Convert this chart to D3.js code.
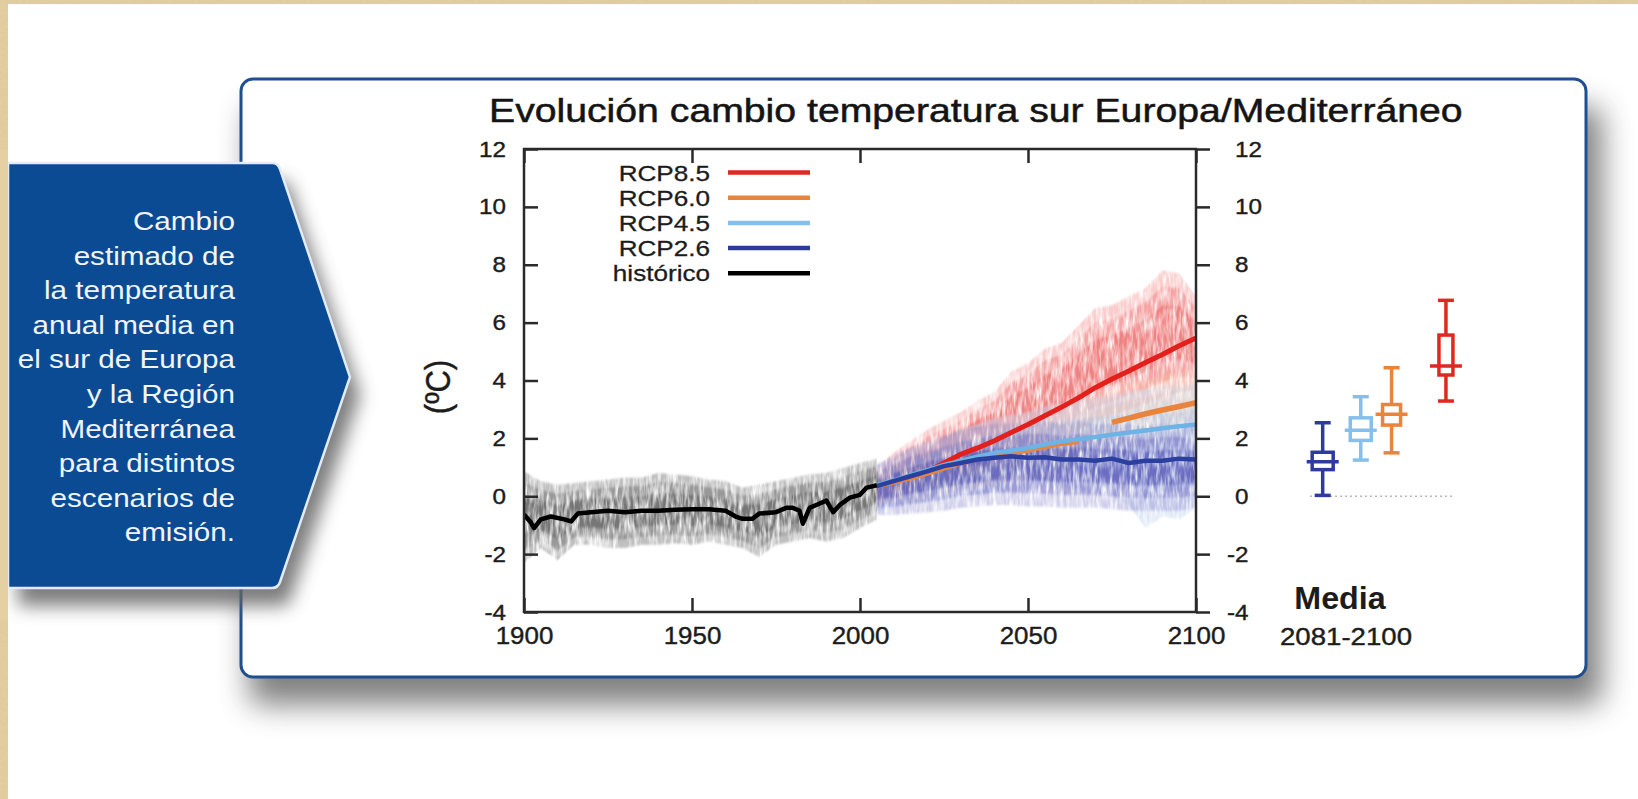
<!DOCTYPE html>
<html>
<head>
<meta charset="utf-8">
<script src="https://cdn.jsdelivr.net/npm/d3@7"></script>
<style>
  body { margin: 0; background: #fff; }
  svg { display: block; }
  text { font-family: "Liberation Sans", Arial, Helvetica, sans-serif; }
</style>
</head>
<body>
<svg id="chart" width="1638" height="799"></svg>
<script>
// ---------------- data ----------------
const title = "Evolución cambio temperatura sur Europa/Mediterráneo";
const sideText = ["Cambio", "estimado de", "la temperatura", "anual media en",
  "el sur de Europa", "y la Región", "Mediterránea", "para distintos",
  "escenarios de", "emisión."];

const yTicks = [-4, -2, 0, 2, 4, 6, 8, 10, 12];
const xTicks = [1900, 1950, 2000, 2050, 2100];

const legendNames = ["RCP8.5", "RCP6.0", "RCP4.5", "RCP2.6", "histórico"];

// historical multi-model mean (ºC anomaly)
const histYears = [1900, 1902, 1903, 1905, 1908, 1912, 1914, 1916, 1920, 1925, 1930, 1935, 1940,
  1945, 1950, 1955, 1960, 1963, 1965, 1968, 1970, 1975, 1978, 1980, 1982, 1983, 1985, 1988,
  1990, 1992, 1994, 1997, 2000, 2002, 2005];
const histMean = [-0.63, -0.9, -1.1, -0.8, -0.7, -0.8, -0.87, -0.6, -0.55, -0.5, -0.55, -0.5, -0.5,
  -0.47, -0.45, -0.45, -0.5, -0.7, -0.78, -0.78, -0.6, -0.55, -0.4, -0.4, -0.5, -0.95, -0.4, -0.25,
  -0.15, -0.55, -0.3, -0.05, 0.05, 0.3, 0.38];

// historical ensemble spread, 5-year steps
const histEnvYears = [1900, 1905, 1910, 1915, 1920, 1925, 1930, 1935, 1940, 1945, 1950, 1955,
  1960, 1965, 1970, 1975, 1980, 1985, 1990, 1995, 2000, 2005];
const histUpper = [0.86, 0.52, 0.4, 0.46, 0.52, 0.58, 0.64, 0.64, 0.8, 0.75, 0.69, 0.58,
  0.52, 0.29, 0.4, 0.52, 0.64, 0.75, 0.8, 0.98, 1.15, 1.3];
const histLower = [-2.3, -1.8, -2.2, -1.68, -1.68, -1.79, -1.79, -1.68, -1.68, -1.62, -1.68, -1.56,
  -1.68, -1.79, -2.1, -1.68, -1.56, -1.44, -1.56, -1.44, -1.1, -0.8];

// scenario projections, 5-year steps
const futYears = [2005, 2010, 2015, 2020, 2025, 2030, 2035, 2040, 2045, 2050, 2055, 2060,
  2065, 2070, 2075, 2080, 2085, 2090, 2095, 2100];

const rcp85Mean = [0.35, 0.52, 0.69, 0.86, 1.15, 1.45, 1.67, 1.92, 2.2, 2.48, 2.78, 3.08,
  3.4, 3.75, 4.05, 4.33, 4.62, 4.9, 5.2, 5.47];
const rcp60Mean = [0.36, 0.5, 0.64, 0.8, 0.98, 1.15, 1.3, 1.42, 1.52, 1.6, 1.72, 1.83,
  1.9, null, 2.55, 2.7, 2.85, 2.98, 3.1, 3.23];
const rcp45Mean = [0.38, 0.55, 0.72, 0.9, 1.08, 1.22, 1.37, 1.5, 1.58, 1.67, 1.79, 1.9,
  1.97, 2.05, 2.13, 2.2, 2.27, 2.35, 2.42, 2.48];
const rcp26Mean = [0.35, 0.52, 0.69, 0.86, 1.04, 1.15, 1.27, 1.33, 1.38, 1.33, 1.35, 1.27,
  1.27, 1.23, 1.3, 1.15, 1.23, 1.23, 1.3, 1.27];

const rcp85Upper = [1.0, 1.5, 1.9, 2.3, 2.6, 2.9, 3.3, 3.6, 4.3, 4.6, 5.1, 5.3,
  5.9, 6.5, 6.6, 6.9, 7.2, 7.8, 7.7, 6.9];
const rcp85Lower = [-0.3, -0.1, 0.1, 0.3, 0.5, 0.7, 0.9, 1.1, 1.3, 1.5, 1.8, 2.0,
  2.3, 2.6, 2.8, 3.0, 3.2, 3.4, 3.6, 3.7];
const rcp60Upper = [0.9, 1.1, 1.3, 1.5, 1.7, 1.9, 2.1, 2.3, 2.5, 2.6, 2.8, 3.0,
  3.1, 3.5, 3.7, 3.9, 4.0, 4.2, 4.3, 4.4];
const rcp60Lower = [-0.3, -0.2, -0.1, 0.0, 0.1, 0.2, 0.3, 0.4, 0.5, 0.6, 0.7, 0.8,
  0.9, 1.3, 1.5, 1.6, 1.7, 1.8, 1.9, 2.0];
const rcp45Upper = [1.1, 1.3, 1.6, 1.8, 2.0, 2.3, 2.5, 2.7, 2.8, 2.9, 3.1, 3.2,
  3.3, 3.4, 3.5, 3.6, 3.7, 3.8, 3.8, 3.9];
const rcp45Lower = [-0.5, -0.4, -0.3, -0.2, -0.1, 0.0, 0.1, 0.1, 0.2, 0.2, 0.3, 0.3,
  0.2, 0.1, 0.0, -0.3, -1.1, -0.7, -0.8, -0.4];
const rcp26Upper = [1.1, 1.4, 1.7, 1.9, 2.1, 2.3, 2.4, 2.5, 2.5, 2.6, 2.6, 2.5,
  2.6, 2.5, 2.5, 2.5, 2.4, 2.5, 2.5, 2.4];
const rcp26Lower = [-0.65, -0.65, -0.6, -0.55, -0.5, -0.4, -0.35, -0.3, -0.3, -0.35, -0.35, -0.4,
  -0.4, -0.4, -0.45, -0.5, -0.5, -0.5, -0.5, -0.4];

// 2081-2100 mean: box-and-whisker statistics
const boxScenarios = ["RCP2.6", "RCP4.5", "RCP6.0", "RCP8.5"];
const boxMin    = [0.03, 1.25, 1.5, 3.29];
const boxQ1     = [0.92, 1.93, 2.46, 4.19];
const boxMedian = [1.19, 2.28, 2.83, 4.5];
const boxQ3     = [1.52, 2.71, 3.17, 5.57];
const boxMax    = [2.54, 3.44, 4.44, 6.77];

// ---------------- layout & style ----------------
const colors = {
  "RCP8.5": "#dc2a22", "RCP6.0": "#e8843c", "RCP4.5": "#86bfe9",
  "RCP2.6": "#2f3b9c", "histórico": "#000000"
};
const plot = { x0: 524, x1: 1196, y0: 149, y1: 612 };
const tickFont = 22, tickSx = 1.1;
const inkColor = "#1c1c1c";

const svg = d3.select("#chart");
const defs = svg.append("defs");

const x = d3.scaleLinear().domain([1900, 2100]).range([plot.x0, plot.x1]);
const y = d3.scaleLinear().domain([-4, 12]).range([plot.y1, plot.y0]);

// filters
function blur(id, sd) {
  defs.append("filter").attr("id", id).attr("x", "-20%").attr("y", "-20%")
    .attr("width", "140%").attr("height", "150%")
    .append("feGaussianBlur").attr("stdDeviation", sd);
}
blur("shadowPanel", 15);
blur("shadowArrow", 9);

// streaky texture for the ensemble spaghetti
const strands = defs.append("filter").attr("id", "strands")
  .attr("filterUnits", "userSpaceOnUse")
  .attr("x", plot.x0 - 5).attr("y", plot.y0 - 5)
  .attr("width", plot.x1 - plot.x0 + 10).attr("height", plot.y1 - plot.y0 + 10);
strands.append("feTurbulence").attr("type", "fractalNoise")
  .attr("baseFrequency", "0.3 0.06").attr("numOctaves", 3).attr("seed", 11).attr("result", "noise");
strands.append("feColorMatrix").attr("in", "noise").attr("type", "matrix")
  .attr("values", "0 0 0 0 0  0 0 0 0 0  0 0 0 0 0  1.9 0 0 0 -0.25").attr("result", "mask");
strands.append("feComposite").attr("in", "SourceGraphic").attr("in2", "mask").attr("operator", "in")
  .attr("result", "tex");
strands.append("feGaussianBlur").attr("in", "tex").attr("stdDeviation", "0.7 0.9");

// paper grain for the parchment edge
const paper = defs.append("filter").attr("id", "paper").attr("x", 0).attr("y", 0)
  .attr("width", "100%").attr("height", "100%");
paper.append("feTurbulence").attr("type", "fractalNoise").attr("baseFrequency", "0.35")
  .attr("numOctaves", 3).attr("seed", 2).attr("result", "n");
paper.append("feColorMatrix").attr("in", "n").attr("type", "matrix")
  .attr("values", "0 0 0 0 0.55  0 0 0 0 0.42  0 0 0 0 0.22  0 0 0 0.6 0");

// ---------------- background ----------------
svg.append("rect").attr("width", 1638).attr("height", 799).attr("fill", "#e4d0a2");
svg.append("rect").attr("width", 1638).attr("height", 799).attr("filter", "url(#paper)").attr("opacity", 0.35);
svg.append("rect").attr("x", 8).attr("y", 4).attr("width", 1630).attr("height", 795).attr("fill", "#ffffff");

// ---------------- panel ----------------
const panel = { x: 241, y: 79, w: 1345, h: 598, r: 12 };
svg.append("rect").attr("x", panel.x + 8).attr("y", panel.y + 28)
  .attr("width", panel.w + 8).attr("height", panel.h)
  .attr("rx", panel.r).attr("fill", "#6a6a6a").attr("opacity", 0.85)
  .attr("filter", "url(#shadowPanel)");
svg.append("rect").attr("x", panel.x).attr("y", panel.y)
  .attr("width", panel.w).attr("height", panel.h).attr("rx", panel.r)
  .attr("fill", "#ffffff").attr("stroke", "#1f4f8e").attr("stroke-width", 3);

// ---------------- side arrow box ----------------
const arrowPath = "M8,163 L272,163 Q278,163 280,169 L350,377 L280,582 Q278,588 272,588 L8,588 Z";
svg.append("path").attr("d", arrowPath).attr("transform", "translate(10,18)")
  .attr("fill", "#666").attr("opacity", 0.85).attr("filter", "url(#shadowArrow)");
svg.append("path").attr("d", arrowPath).attr("fill", "#0b4b94")
  .attr("stroke", "#e3ebf6").attr("stroke-width", 2.5);
svg.append("rect").attr("x", 0).attr("y", 150).attr("width", 8).attr("height", 470).attr("fill", "#e4d0a2");

const sideG = svg.append("g");
sideText.forEach((line, i) => {
  sideG.append("text")
    .attr("transform", `translate(235,${230 + i * 34.6}) scale(1.14,1)`)
    .attr("text-anchor", "end")
    .style("font-size", "26px")
    .attr("fill", "#f1f5fb")
    .text(line);
});

// ---------------- title ----------------
const titleText = svg.append("text")
  .attr("text-anchor", "start")
  .style("font-size", "33px")
  .attr("fill", "#141414").attr("stroke", "#141414").attr("stroke-width", 0.5)
  .text(title);
{
  const natural = titleText.node().getComputedTextLength();
  const sx = (1463 - 489) / natural;
  titleText.attr("transform", `translate(489,122) scale(${sx},1)`);
}

// ---------------- ensemble bands ----------------
const clip = defs.append("clipPath").attr("id", "plotClip");
clip.append("rect").attr("x", plot.x0).attr("y", plot.y0)
  .attr("width", plot.x1 - plot.x0).attr("height", plot.y1 - plot.y0);

const bands = svg.append("g").attr("clip-path", "url(#plotClip)");

function bandRows(years, lo, hi) {
  return years.map((yr, i) => ({ year: yr, lo: lo[i], hi: hi[i] }));
}
// band shrunk towards its centre by factor k (denser core of the ensemble)
const coreArea = k => d3.area().x(d => x(d.year))
  .y0(d => y((d.lo + d.hi) / 2 - k * (d.hi - d.lo) / 2))
  .y1(d => y((d.lo + d.hi) / 2 + k * (d.hi - d.lo) / 2));

function drawBand(rows, layers) {
  const g = bands.append("g").attr("filter", "url(#strands)");
  layers.forEach(([k, fill, op]) => {
    g.append("path").datum(rows).attr("d", coreArea(k)).attr("fill", fill).attr("opacity", op);
  });
}

drawBand(bandRows(histEnvYears, histLower, histUpper),
  [[1.0, "#a8a8a8", 0.75], [0.75, "#8c8c8c", 0.75], [0.45, "#6e6e6e", 0.8]]);
drawBand(bandRows(futYears, rcp85Lower, rcp85Upper),
  [[1.0, "#f6aaaa", 0.6], [0.75, "#f08585", 0.55], [0.45, "#e96060", 0.5]]);
drawBand(bandRows(futYears, rcp60Lower, rcp60Upper),
  [[1.0, "#f4c6a0", 0.3], [0.5, "#eea06a", 0.3]]);
drawBand(bandRows(futYears, rcp45Lower, rcp45Upper),
  [[1.0, "#c4d6f0", 0.55], [0.6, "#9fc2ec", 0.45]]);
drawBand(bandRows(futYears, rcp26Lower, rcp26Upper),
  [[1.0, "#8a86cc", 0.4], [0.7, "#6662bb", 0.4], [0.4, "#3e3ca8", 0.45]]);

// ---------------- mean lines ----------------
const line = d3.line().defined(d => d.v !== null).x(d => x(d.year)).y(d => y(d.v));
function series(years, vals) { return years.map((yr, i) => ({ year: yr, v: vals[i] })); }

const means = svg.append("g").attr("clip-path", "url(#plotClip)").attr("fill", "none")
  .attr("stroke-linejoin", "round");
means.append("path").datum(series(futYears, rcp85Mean)).attr("d", line)
  .attr("stroke", "#e3201b").attr("stroke-width", 5);
means.append("path").datum(series(futYears, rcp60Mean)).attr("d", line)
  .attr("stroke", colors["RCP6.0"]).attr("stroke-width", 5.5);
means.append("path").datum(series(futYears, rcp45Mean)).attr("d", line)
  .attr("stroke", "#6db3e6").attr("stroke-width", 4.5);
means.append("path").datum(series(futYears, rcp26Mean)).attr("d", line)
  .attr("stroke", "#2b3f9e").attr("stroke-width", 4.5);
means.append("path").datum(series(histYears, histMean)).attr("d", line)
  .attr("stroke", "#000000").attr("stroke-width", 4.5);

// ---------------- axes ----------------
const fmt = d => String(d);
const axisColor = "#2a2a2a";

function styleAxis(g) {
  g.select(".domain").remove();
  g.selectAll(".tick line").attr("stroke", axisColor).attr("stroke-width", 2.5);
  g.selectAll(".tick text").attr("fill", inkColor).attr("stroke", inkColor).attr("stroke-width", 0.4)
    .style("font-size", tickFont + "px")
    .style("font-family", "'Liberation Sans', Arial, sans-serif");
}

// left
const gLeft = svg.append("g").attr("transform", `translate(${plot.x0},0)`)
  .call(d3.axisLeft(y).tickValues(yTicks).tickSize(-14).tickSizeOuter(0).tickFormat(fmt));
styleAxis(gLeft);
gLeft.selectAll(".tick text").attr("x", -18 / tickSx).attr("transform", `scale(${tickSx},1)`);

// right (ticks outward, labels digit-aligned)
const gRight = svg.append("g").attr("transform", `translate(${plot.x1},0)`)
  .call(d3.axisRight(y).tickValues(yTicks).tickSize(14).tickSizeOuter(0).tickFormat(fmt));
styleAxis(gRight);
gRight.selectAll(".tick text")
  .attr("x", d => (d < 0 ? 31 : 39) / tickSx)
  .attr("transform", `scale(${tickSx},1)`);

// bottom
const gBottom = svg.append("g").attr("transform", `translate(0,${plot.y1})`)
  .call(d3.axisBottom(x).tickValues(xTicks).tickSize(-14).tickPadding(15).tickSizeOuter(0).tickFormat(fmt));
styleAxis(gBottom);
gBottom.selectAll(".tick text").style("font-size", "24px").attr("transform", "scale(1.08,1)");

// top (ticks only)
const gTop = svg.append("g").attr("transform", `translate(0,${plot.y0})`)
  .call(d3.axisTop(x).tickValues(xTicks).tickSize(-14).tickSizeOuter(0).tickFormat(""));
styleAxis(gTop);

// frame
svg.append("rect").attr("x", plot.x0).attr("y", plot.y0)
  .attr("width", plot.x1 - plot.x0).attr("height", plot.y1 - plot.y0)
  .attr("fill", "none").attr("stroke", axisColor).attr("stroke-width", 2.5);

// y-axis title
svg.append("text")
  .attr("transform", "translate(450,387) rotate(-90) scale(1,1.15)")
  .attr("text-anchor", "middle")
  .style("font-size", "31px").attr("fill", inkColor).attr("stroke", inkColor).attr("stroke-width", 0.4)
  .text("(ºC)");

// ---------------- legend ----------------
const legend = svg.append("g");
legendNames.forEach((name, i) => {
  const cy = 172.5 + i * 25.2;
  legend.append("text")
    .attr("transform", `translate(710,${cy + 8}) scale(1.16,1)`)
    .attr("text-anchor", "end")
    .style("font-size", "22.5px").attr("fill", inkColor).attr("stroke", inkColor).attr("stroke-width", 0.3)
    .text(name);
  legend.append("line")
    .attr("x1", 728).attr("x2", 810).attr("y1", cy).attr("y2", cy)
    .attr("stroke", colors[name]).attr("stroke-width", 4.5);
});

// ---------------- 2081-2100 box plots ----------------
const boxSlots = [0.35, 1.4, 2.25, 3.75];     // horizontal slot of each box
const boxWidths = [21, 21, 18, 14];
const bx = d3.scaleLinear().domain([0, 4]).range([1310, 1455]);

svg.append("line")
  .attr("x1", bx(0)).attr("x2", bx(4) - 3).attr("y1", y(0)).attr("y2", y(0))
  .attr("stroke", "#b8b8b8").attr("stroke-width", 1.5).attr("stroke-dasharray", "2,3");

const boxG = svg.append("g").attr("fill", "none").attr("stroke-width", 3.5);
boxScenarios.forEach((s, i) => {
  const cx = bx(boxSlots[i]);
  const w = boxWidths[i];
  const g = boxG.append("g").attr("stroke", colors[s]);
  g.append("line").attr("x1", cx).attr("x2", cx).attr("y1", y(boxMin[i])).attr("y2", y(boxQ1[i]));
  g.append("line").attr("x1", cx).attr("x2", cx).attr("y1", y(boxQ3[i])).attr("y2", y(boxMax[i]));
  g.append("line").attr("x1", cx - 8).attr("x2", cx + 8).attr("y1", y(boxMin[i])).attr("y2", y(boxMin[i]));
  g.append("line").attr("x1", cx - 8).attr("x2", cx + 8).attr("y1", y(boxMax[i])).attr("y2", y(boxMax[i]));
  g.append("rect").attr("x", cx - w / 2).attr("y", y(boxQ3[i]))
    .attr("width", w).attr("height", y(boxQ1[i]) - y(boxQ3[i])).attr("fill", "#fff");
  g.append("line").attr("x1", cx - 16).attr("x2", cx + 16)
    .attr("y1", y(boxMedian[i])).attr("y2", y(boxMedian[i]));
});

svg.append("text")
  .attr("transform", "translate(1340,609) scale(1.04,1)")
  .attr("text-anchor", "middle")
  .style("font-size", "31px").style("font-weight", "bold").attr("fill", inkColor)
  .text("Media");
svg.append("text")
  .attr("transform", "translate(1346,645) scale(1.15,1)")
  .attr("text-anchor", "middle")
  .style("font-size", "24px").attr("fill", inkColor).attr("stroke", inkColor).attr("stroke-width", 0.4)
  .text("2081-2100");
</script>
</body>
</html>
